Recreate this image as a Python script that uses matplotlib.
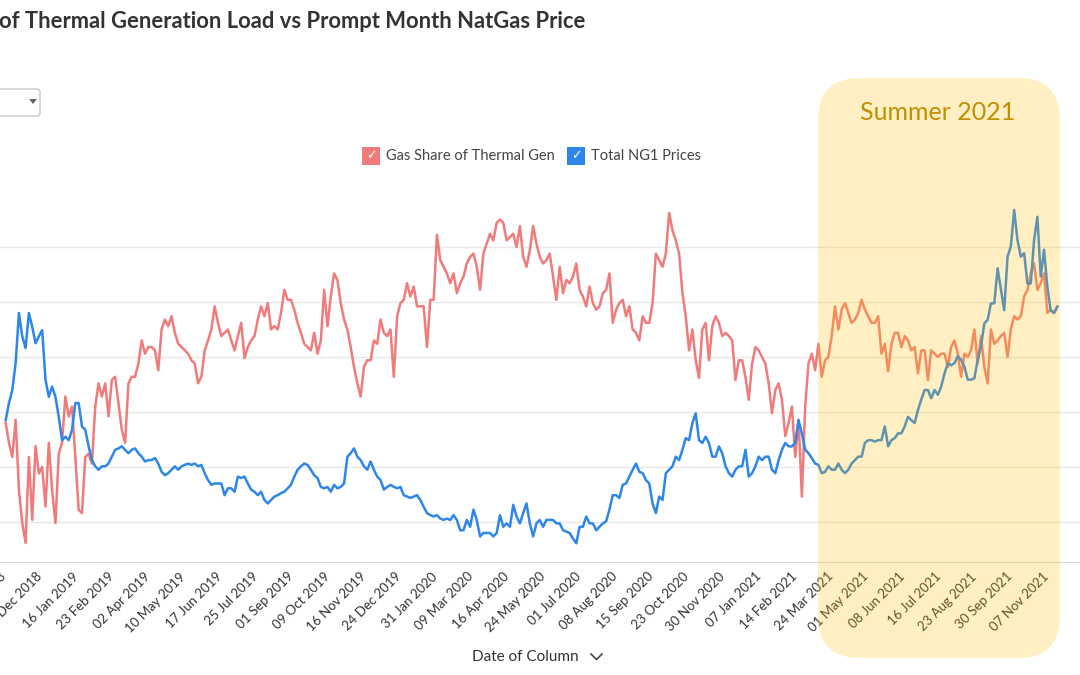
import matplotlib
matplotlib.use("Agg")
import matplotlib.pyplot as plt
from matplotlib.patches import FancyBboxPatch, Rectangle, Polygon
from matplotlib.lines import Line2D
from matplotlib.transforms import Affine2D
import pandas as pd

W, H = 1080, 675

# gas share of thermal generation (%), ~3.5 day steps
gas_share = [
    59.0, 57.2, 55.9, 59.3, 52.9, 49.9, 48.1, 55.9, 50.2, 56.9, 54.4, 55.0, 51.4, 57.2, 52.9, 49.9,
    56.2, 57.2, 61.4, 59.6, 60.5, 55.9, 51.1, 50.8, 55.9, 56.2, 55.3, 60.5, 62.6, 61.4, 62.6, 59.6,
    62.9, 63.2, 60.8, 58.4, 57.2, 62.6, 63.2, 63.2, 64.4, 66.5, 65.3, 65.9, 65.9, 65.6, 63.8, 67.5,
    68.4, 67.8, 68.7, 67.2, 66.2, 65.9, 65.6, 65.3, 64.7, 64.4, 62.6, 63.2, 65.6, 66.5, 67.5, 69.6, 68.1,
    66.9, 67.2, 67.5, 66.5, 65.6, 66.9, 68.1, 64.9, 65.9, 66.5, 66.9, 68.4, 69.6, 68.7, 69.9, 67.5,
    67.8, 67.5, 69.0, 71.1, 70.2, 70.2, 69.3, 68.1, 67.2, 66.2, 65.9, 65.6, 67.2, 65.3, 66.5, 71.1,
    67.8, 70.5, 72.6, 72.0, 69.9, 68.4, 67.5, 65.9, 64.1, 62.6, 61.4, 64.1, 64.7, 64.7, 66.5, 66.2,
    68.4, 67.2, 66.9, 67.5, 63.2, 68.7, 69.9, 70.2, 71.7, 70.5, 71.4, 69.6, 69.6, 69.6, 65.9, 70.2,
    70.2, 76.1, 73.8, 73.2, 72.6, 71.7, 72.6, 70.8, 71.7, 72.3, 73.5, 74.1, 74.4, 73.2, 71.1, 74.4,
    75.3, 76.2, 75.6, 77.2, 77.5, 77.2, 75.6, 75.9, 76.2, 75.0, 76.9, 74.1, 73.2, 74.7, 76.9, 75.3,
    74.1, 73.5, 73.8, 74.4, 72.3, 70.2, 73.2, 70.8, 72.0, 71.7, 72.3, 73.5, 71.1, 70.5, 69.6, 71.4,
    69.9, 69.3, 69.6, 70.8, 71.1, 72.6, 68.1, 69.3, 69.9, 70.2, 68.7, 69.6, 67.5, 67.2, 66.5, 68.7, 68.1,
    68.1, 69.9, 74.4, 73.8, 73.2, 74.4, 78.1, 76.5, 75.6, 74.4, 70.8, 68.7, 65.6, 67.5, 64.7, 63.1,
    67.5, 68.1, 64.7, 67.8, 68.7, 68.1, 66.9, 67.2, 66.9, 66.5, 62.9, 64.7, 64.7, 63.2, 61.1, 64.4,
    65.9, 65.6, 65.0, 64.4, 62.6, 59.9, 62.0, 62.6, 61.1, 57.8, 59.0, 60.5, 55.9, 59.3, 52.3, 60.5,
    64.4, 65.3, 63.8, 66.2, 63.2, 64.7, 65.0, 66.9, 69.6, 67.5, 69.3, 69.9, 69.0, 68.1, 68.4, 69.0,
    70.2, 69.3, 68.7, 68.1, 68.1, 68.7, 65.3, 66.2, 63.7, 66.2, 67.2, 67.2, 65.9, 66.9, 66.5, 65.6,
    65.9, 63.5, 65.6, 65.6, 62.9, 65.6, 65.3, 65.0, 65.3, 65.3, 64.1, 65.9, 66.5, 65.3, 63.2, 65.3,
    65.0, 65.6, 67.5, 64.4, 66.9, 64.1, 62.6, 67.5, 66.2, 66.5, 66.9, 67.2, 65.0, 67.5, 68.7, 68.4,
    68.7, 70.5, 71.1, 72.6, 73.5, 71.1, 71.7, 72.6, 69.0, 69.3, 69.0, 69.6,
]

# prompt month natural gas price ($/MMBtu)
ng1_price = [
    3.28, 3.53, 3.72, 4.11, 4.84, 4.50, 4.33, 4.84, 4.64, 4.40, 4.50, 4.59, 3.87, 3.62, 3.77, 3.62,
    3.33, 2.99, 3.04, 2.99, 3.14, 3.53, 3.53, 3.19, 3.14, 2.90, 2.70, 2.61, 2.56, 2.61, 2.61, 2.65,
    2.75, 2.85, 2.87, 2.90, 2.85, 2.80, 2.85, 2.87, 2.80, 2.75, 2.68, 2.70, 2.70, 2.73, 2.65, 2.53,
    2.48, 2.51, 2.56, 2.61, 2.56, 2.61, 2.63, 2.65, 2.63, 2.65, 2.61, 2.63, 2.51, 2.41, 2.34, 2.36, 2.36,
    2.36, 2.19, 2.29, 2.29, 2.24, 2.46, 2.44, 2.46, 2.36, 2.27, 2.24, 2.19, 2.24, 2.12, 2.07, 2.12,
    2.17, 2.19, 2.22, 2.24, 2.29, 2.34, 2.46, 2.56, 2.61, 2.65, 2.63, 2.56, 2.48, 2.44, 2.31, 2.29,
    2.31, 2.24, 2.34, 2.29, 2.31, 2.36, 2.75, 2.80, 2.87, 2.75, 2.70, 2.61, 2.56, 2.68, 2.56, 2.46,
    2.41, 2.27, 2.31, 2.34, 2.31, 2.29, 2.31, 2.19, 2.17, 2.15, 2.17, 2.19, 2.12, 2.02, 1.93, 1.90,
    1.88, 1.90, 1.85, 1.83, 1.85, 1.83, 1.90, 1.83, 1.68, 1.68, 1.83, 1.73, 1.98, 1.83, 1.59, 1.64,
    1.64, 1.64, 1.59, 1.64, 1.90, 1.73, 1.78, 1.73, 2.05, 1.88, 1.78, 1.93, 2.07, 1.78, 1.59, 1.78,
    1.83, 1.73, 1.83, 1.83, 1.83, 1.78, 1.78, 1.68, 1.66, 1.64, 1.56, 1.49, 1.73, 1.73, 1.88, 1.78,
    1.78, 1.68, 1.73, 1.78, 1.81, 1.98, 2.19, 2.19, 2.15, 2.34, 2.36, 2.46, 2.56, 2.65, 2.53, 2.51, 2.41,
    2.36, 2.07, 1.93, 2.17, 2.12, 2.51, 2.56, 2.61, 2.75, 2.70, 2.85, 3.02, 2.99, 3.24, 3.38, 2.99,
    2.95, 3.04, 2.95, 2.75, 2.75, 2.90, 2.80, 2.61, 2.51, 2.46, 2.56, 2.61, 2.61, 2.85, 2.46, 2.51,
    2.61, 2.75, 2.70, 2.75, 2.75, 2.56, 2.51, 2.70, 2.85, 2.95, 2.90, 2.90, 2.95, 3.28, 3.09, 2.85,
    2.80, 2.73, 2.65, 2.63, 2.51, 2.53, 2.61, 2.56, 2.56, 2.65, 2.56, 2.51, 2.56, 2.65, 2.70, 2.75,
    2.75, 2.95, 2.99, 2.99, 2.97, 2.99, 2.99, 3.19, 2.90, 2.99, 3.02, 3.09, 3.09, 3.19, 3.33, 3.28,
    3.24, 3.43, 3.58, 3.72, 3.72, 3.60, 3.72, 3.65, 3.77, 3.96, 4.11, 4.08, 4.11, 4.21, 4.16, 4.06,
    3.87, 3.87, 3.89, 4.16, 4.35, 4.69, 4.74, 4.98, 4.98, 5.49, 5.18, 4.88, 5.66, 5.81, 6.34, 5.90,
    5.66, 5.71, 5.27, 5.27, 5.90, 6.24, 5.37, 5.76, 5.22, 4.88, 4.84, 4.93,
]

dates = pd.date_range("2018-11-07", "2021-11-23", periods=len(gas_share))

tick_labels = [
    "01 Nov 2018", "09 Dec 2018", "16 Jan 2019", "23 Feb 2019", "02 Apr 2019", "10 May 2019",
    "17 Jun 2019", "25 Jul 2019", "01 Sep 2019", "09 Oct 2019", "16 Nov 2019", "24 Dec 2019",
    "31 Jan 2020", "09 Mar 2020", "16 Apr 2020", "24 May 2020", "01 Jul 2020", "08 Aug 2020",
    "15 Sep 2020", "23 Oct 2020", "30 Nov 2020", "07 Jan 2021", "14 Feb 2021", "24 Mar 2021",
    "01 May 2021", "08 Jun 2021", "16 Jul 2021", "23 Aug 2021", "30 Sep 2021", "07 Nov 2021",
]
tick_dates = pd.to_datetime(tick_labels, format="%d %b %Y")

red = "#F07B7B"
blue = "#2E86E8"
text_col = "#333333"

plt.rcParams['font.family'] = ['Lato', 'DejaVu Sans']

fig = plt.figure(figsize=(W / 100, H / 100), dpi=100)
fig.patch.set_facecolor("white")
# pixel coordinates, origin bottom-left
px = Affine2D().scale(1 / W, 1 / H) + fig.transFigure

ax = fig.add_axes([0, 1 - 562 / H, 1, (562 - 190) / H])
ax2 = ax.twinx()

ax.plot(dates, gas_share, color=red, lw=1.8, solid_joinstyle="round")
ax2.plot(dates, ng1_price, color=blue, lw=1.8, solid_joinstyle="round")

ax.set_xlim(pd.Timestamp("2018-11-07"), pd.Timestamp("2021-12-17"))
ax.set_ylim(46.36, 80.18)
ax2.set_ylim(1.218, 6.629)

ax.set_yticks([50, 55, 60, 65, 70, 75])
ax.grid(axis="y", color="#e8e8e8", lw=1)
ax.set_axisbelow(True)
ax.tick_params(axis="y", left=False, labelleft=False)
ax2.set_yticks([])

ax.set_xticks(tick_dates)
ax.set_xticklabels(tick_labels, rotation=45, ha="right", va="top",
                   rotation_mode="anchor", fontsize=9.5, color=text_col)
ax.tick_params(axis="x", length=0, pad=6)

for a in (ax, ax2):
    for s in ("top", "left", "right"):
        a.spines[s].set_visible(False)
ax2.spines["bottom"].set_visible(False)
ax.spines["bottom"].set_color("#d9d9d9")

# title (cropped on the left in the original)
fig.text(-1, H - 22, "of Thermal Generation Load vs Prompt Month NatGas Price",
         transform=px, fontsize=15.8, fontweight="bold", color=text_col, va="center")

# dropdown stub
fig.add_artist(FancyBboxPatch((-10, H - 116), 50, 27, boxstyle="round,pad=0,rounding_size=3",
                              transform=px, fc="white", ec="#c8c8c8", lw=1))
fig.add_artist(Polygon([(29, H - 99), (37, H - 99), (33, H - 104)], closed=True,
                       transform=px, fc="#666666", ec="none"))

# legend
for x0, col, label in [(362, red, "Gas Share of Thermal Gen"), (567, blue, "Total NG1 Prices")]:
    fig.add_artist(Rectangle((x0, H - 165), 18, 18, transform=px, fc=col, ec="none"))
    fig.text(x0 + 9, H - 156, "\u2713", transform=px, ha="center", va="center",
             fontsize=9, color="white", family="DejaVu Sans")
    fig.text(x0 + 24, H - 156, label, transform=px, va="center", fontsize=10.5, color="#444444")

# x axis title
fig.text(472, H - 657, "Date of Column", transform=px, va="center", fontsize=11, color=text_col)
fig.add_artist(Line2D([591, 596.5, 602], [H - 654, H - 659.5, H - 654], transform=px,
                      color="#444444", lw=1.2))

# summer 2021 highlight
fig.add_artist(FancyBboxPatch((818, H - 658), 242, 580, boxstyle="round,pad=0,rounding_size=42",
                              transform=px, fc="#FFC000", ec="none", alpha=0.24, zorder=5))
fig.text(938, H - 112, "Summer 2021", transform=px, ha="center", va="center",
         fontsize=18, color="#BF9000", zorder=6)

fig.savefig("out.png", dpi=100)
